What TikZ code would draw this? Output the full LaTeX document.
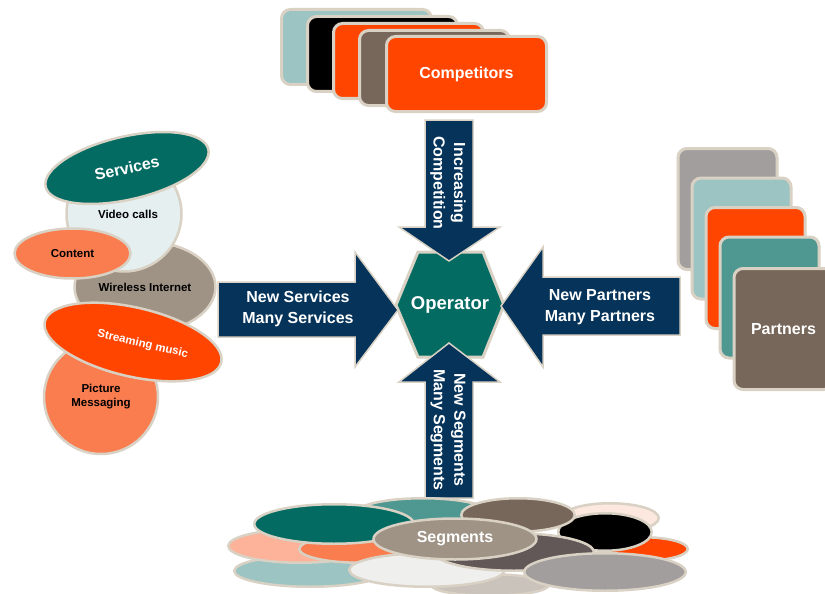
\documentclass[tikz,border=0pt]{standalone}
\usepackage{fontspec}
\setmainfont{Liberation Sans}
\usetikzlibrary{shapes.geometric}
\definecolor{edge}{HTML}{D8D1C4}
\definecolor{navyblue}{HTML}{05335A}
\definecolor{opteal}{HTML}{046B62}
\definecolor{midteal}{HTML}{4F9892}
\definecolor{paleblue}{HTML}{9CC4C2}
\definecolor{flame}{HTML}{FF4500}
\definecolor{coral}{HTML}{FA7D50}
\definecolor{salmon}{HTML}{FDB39A}
\definecolor{blush}{HTML}{FDE8E0}
\definecolor{umber}{HTML}{77675A}
\definecolor{taupe}{HTML}{9F9386}
\definecolor{ash}{HTML}{A39E9E}
\definecolor{slate}{HTML}{625858}
\definecolor{mist}{HTML}{EFEFEE}
\definecolor{sand}{HTML}{CAC3BB}
\definecolor{ice}{HTML}{E5EFF0}

\begin{document}
\begin{tikzpicture}[x=1pt,y=-1pt,
    every node/.style={inner sep=0pt, font=\bfseries},
    card/.style={draw=edge, line width=3pt, rounded corners=9pt},
    blob/.style={ellipse, draw=edge, line width=2.5pt},
    ball/.style={circle, draw=edge, line width=2.5pt},
    block/.style={fill=navyblue, draw=edge, line width=1.5pt},
    big/.style={text=white, align=center,
        font=\bfseries\fontsize{16}{20.5}\selectfont},
    small/.style={align=center, font=\bfseries\fontsize{11.5}{14}\selectfont}]

    \fill[white] (0,0) rectangle (825,594);
    \useasboundingbox (0,0) rectangle (825,594);
    \clip (0,0) rectangle (825,594);

    % competitors
    \foreach \c [count=\i] in {paleblue,black,flame,umber}
        \node[card, fill=\c, minimum width=150pt, minimum height=75pt]
            (comp\i) at ({356.5+26*(\i-1)}, {47+7*(\i-1)}) {};
    \node[card, fill=flame, minimum width=160pt, minimum height=75pt, big]
        (comp) at (466.5,74) {Competitors};

    % partners
    \foreach \c [count=\i] in {ash,paleblue,flame,midteal}
        \node[card, fill=\c, minimum width=99pt, minimum height=121pt]
            (part\i) at ({727.5+14*(\i-1)}, {209+29.5*(\i-1)}) {};
    \node[card, fill=umber, minimum width=99pt, minimum height=121pt, big]
        (part) at (783.5,329) {Partners};

    % services
    \node[blob, fill=taupe, minimum width=141pt, minimum height=91pt, small]
        (wifi) at (145,287) {Wireless Internet};
    \node[ball, fill=ice, minimum size=115pt, small]
        (video) at (124,214) {\hspace*{8pt}\raisebox{-4pt}{Video calls}};
    \node[blob, fill=coral, minimum width=116pt, minimum height=50pt, small]
        (content) at (72.5,253.5) {Content};
    \node[blob, fill=opteal, minimum width=167pt, minimum height=63pt,
        rotate=13, big] (services) at (127,168) {Services};
    \node[ball, fill=coral, minimum size=114pt, small]
        (picture) at (101,397) {Picture\\Messaging};
    \node[blob, fill=flame, minimum width=181pt, minimum height=69pt,
        rotate=-13, small, text=white]
        (music) at (133,342) {\hspace*{20pt}Streaming music};

    % operator
    \draw[fill=opteal, draw=edge, line width=3pt] (418,252) -- (483,252)
        -- (504,305) -- (483,357) -- (418,357) -- (396,305) -- cycle;
    \node[text=white, font=\bfseries\fontsize{18.5}{22}\selectfont]
        (op) at (450,305) {Operator};

    % arrows
    \draw[block] (425,120) -- (473,120) -- (473,227) -- (500,227)
        -- (449,261) -- (399,227) -- (425,227) -- cycle;
    \draw[block] (425,498) -- (473,498) -- (473,382) -- (500,382)
        -- (449,343) -- (399,382) -- (425,382) -- cycle;
    \draw[block] (218,282) -- (355,282) -- (355,252) -- (398,310)
        -- (355,367) -- (355,337) -- (218,337) -- cycle;
    \draw[block] (680,277) -- (543,277) -- (543,247) -- (501,306)
        -- (543,367) -- (543,335) -- (680,335) -- cycle;
    \node[big, rotate=-90] (comptxt) at (448,183) {Increasing\\Competition};
    \node[big] (servtxt) at (298,309) {New Services\\Many Services};
    \node[big] (parttxt) at (600,307) {New Partners\\Many Partners};
    \node[big, rotate=-90] (segtxt) at (448,430) {New Segments\\Many Segments};

    % segments
    \foreach \x/\y/\a/\b/\c [count=\i] in {490/585/60/12/sand,
            310/571/77/17/paleblue, 300/546/73/18/salmon, 360/549/62/15/coral,
            423/514/70/17/midteal, 334/524/81/21/opteal, 610/518/50/16/blush,
            643/549/46/13/flame, 605/532/48/20/black, 518/515/58/18/umber,
            427/570/79/18/mist, 514/552/81/20/slate, 605/572/82/20/ash}
        \node[blob, fill=\c, minimum width={2*\a*1pt-2.5pt},
            minimum height={2*\b*1pt-2.5pt}] (seg\i) at (\x,\y) {};
    \node[blob, fill=taupe, minimum width=163pt, minimum height=41pt, big]
        (segs) at (455,539) {Segments};

\end{tikzpicture}
\end{document}
